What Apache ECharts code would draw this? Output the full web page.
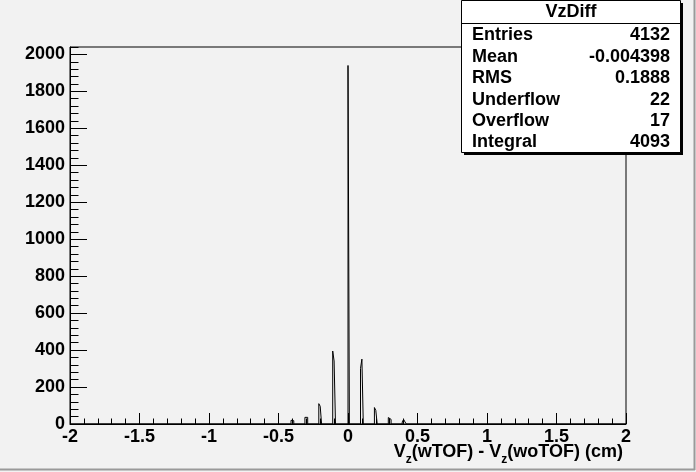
<!DOCTYPE html>
<html><head><meta charset="utf-8">
<script src="https://cdn.jsdelivr.net/npm/echarts@6/dist/echarts.min.js"></script>
<style>html,body{margin:0;padding:0;background:#f2f2f2}#c{width:696px;height:472px}</style>
</head><body><div id="c"></div><script>
// ---- data ----
const binWidth = 0.01;
const binLow   = [-0.41,-0.40,-0.31,-0.30,-0.21,-0.20,-0.11,-0.10,0.00,0.09,0.10,0.19,0.20,0.29,0.30,0.39,0.40,0.41];
const binCount = [20,18,36,36,110,96,395,341,1940,301,351,89,74,35,25,11,25,11];
const xTickLabels = [-2,-1.5,-1,-0.5,0,0.5,1,1.5,2];
const yTickLabels = [0,200,400,600,800,1000,1200,1400,1600,1800,2000];
const statsTitle  = 'VzDiff';
const statsLabels = ['Entries','Mean','RMS','Underflow','Overflow','Integral'];
const statsValues = ['4132','-0.004398','0.1888','22','17','4093'];

const FONT = '"Liberation Sans", Arial, Helvetica, sans-serif';
const r3 = v => Math.round(v*1000)/1000;

// step outline of histogram
const pts = [[-2,0]];
for (let i=0;i<binLow.length;i++){
  const lo = binLow[i], hi = r3(lo+binWidth);
  pts.push([lo, binCount[i]]);
  const next = binLow[i+1];
  if (next === undefined || Math.abs(next-hi) > 1e-6) pts.push([hi,0]);
}
pts.push([2,0]);

const chart = echarts.init(document.getElementById('c'), null, {renderer:'canvas'});
const lab = {color:'#000', fontFamily:FONT, fontWeight:'bold', fontSize:18};

// stats box graphic
const bx = 461.5, by = 0.5, bw = 219, bh = 152;
const g = [
  {type:'rect', shape:{x:bx+2.5,y:by+2.5,width:bw,height:bh}, style:{fill:'#000'}, z:100},
  {type:'rect', shape:{x:bx,y:by,width:bw,height:bh}, style:{fill:'#fff',stroke:'#000',lineWidth:1}, z:101},
  {type:'line', shape:{x1:bx,y1:23.5,x2:bx+bw,y2:23.5}, style:{stroke:'#000',lineWidth:1}, z:102},
  {type:'text', x:bx+bw/2, y:12.5, style:{text:statsTitle, align:'center', verticalAlign:'middle', font:'bold 18px '+FONT, fill:'#000'}, z:103},
  // canvas bevel border
  {type:'line', shape:{x1:694.5,y1:0,x2:694.5,y2:470}, style:{stroke:'#9a9a9a',lineWidth:2}, z:90},
  {type:'line', shape:{x1:0,y1:469.5,x2:695,y2:469.5}, style:{stroke:'#9a9a9a',lineWidth:2}, z:90},
  // axis title
  {type:'text', x:623, y:443, style:{
    text:'{n|V}{s|z}{n|(wTOF) - V}{s|z}{n|(woTOF) (cm)}',
    align:'right', verticalAlign:'top',
    rich:{
      n:{fontFamily:FONT, fontWeight:'bold', fontSize:18, lineHeight:18, verticalAlign:'top', fill:'#000'},
      s:{fontFamily:FONT, fontWeight:'bold', fontSize:12, lineHeight:34, fill:'#000'}
    }}, z:50}
];
statsLabels.forEach((t,i)=>{
  const y = 35.5 + 21.4*i;
  g.push({type:'text', x:472, y:y, style:{text:t, align:'left', verticalAlign:'middle', font:'bold 18px '+FONT, fill:'#000'}, z:103});
  g.push({type:'text', x:670, y:y, style:{text:statsValues[i], align:'right', verticalAlign:'middle', font:'bold 18px '+FONT, fill:'#000'}, z:103});
});

chart.setOption({
  animation:false,
  backgroundColor:'#f2f2f2',
  grid:{left:70, right:70, top:47, bottom:48, show:true, borderColor:'#000', borderWidth:1, backgroundColor:'transparent'},
  xAxis:{type:'value', min:-2, max:2, interval:0.5,
    axisLine:{show:true, onZero:false, lineStyle:{color:'#000',width:1}},
    axisTick:{show:true, inside:true, length:11, lineStyle:{color:'#000'}},
    minorTick:{show:true, splitNumber:5, length:5.5, lineStyle:{color:'#000'}},
    splitLine:{show:false},
    axisLabel:Object.assign({margin:4, formatter:v=>xTickLabels.some(t=>Math.abs(t-v)<1e-9)?String(v):''}, lab)
  },
  yAxis:[
    {type:'value', min:0, max:2040, interval:200, position:'left',
      axisLine:{show:true, onZero:false, lineStyle:{color:'#000',width:1}},
      axisTick:{show:true, inside:true, length:17, lineStyle:{color:'#000'}},
      splitLine:{show:false},
      axisLabel:Object.assign({margin:5, showMaxLabel:false, formatter:v=>yTickLabels.includes(v)?String(v):''}, lab)
    },
    {type:'value', min:0, max:2040, interval:40, position:'left', offset:0,
      axisLine:{show:false, onZero:false},
      axisTick:{show:true, inside:true, length:8.5, lineStyle:{color:'#000'}},
      splitLine:{show:false}, axisLabel:{show:false}
    }
  ],
  series:[{
    type:'line', step:'end', data:pts, xAxisIndex:0, yAxisIndex:0,
    symbol:'none', showSymbol:false, z:3,
    lineStyle:{color:'#000', width:1}
  }],
  graphic:g
});
</script></body></html>
